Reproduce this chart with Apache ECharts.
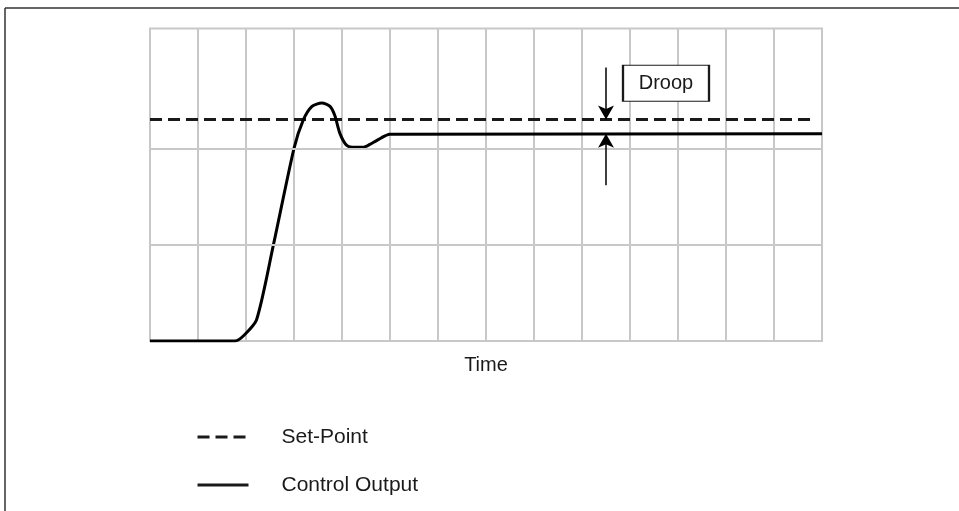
<!DOCTYPE html>
<html>
<head>
<meta charset="utf-8">
<script src="https://cdn.jsdelivr.net/npm/echarts@6/dist/echarts.min.js"></script>
<style>
  html, body { margin: 0; padding: 0; background: #fff; }
  #chart { width: 959px; height: 511px; }
</style>
</head>
<body>
<div id="chart"></div>
<script>
// ---- data ----
const timeX   = [0, 1.77, 1.96, 2.22, 2.57, 3.0, 3.19, 3.375, 3.58, 3.75, 3.85, 3.96, 4.10, 4.27, 4.44, 4.58, 4.72, 5.0, 14];
const outputY = [0, 0, 0.06, 0.22, 0.995, 2.0, 2.29, 2.435, 2.47, 2.435, 2.34, 2.15, 2.03, 2.01, 2.01, 2.04, 2.08, 2.145, 2.15];
const setPointX = [0, 13.81];
const setPointValue = 2.30;
const yGridLines = [1, 2];
const droopX = 9.5;
const droopArrowTop = 2.84;
const droopArrowBottom = 1.617;
const droopLabelPos = [10.75, 2.675];
const seriesNames = ['Set-Point', 'Control Output'];
const axisName = 'Time';

const font = 'Liberation Sans, Arial, Helvetica, sans-serif';
const outputData = timeX.map((x, i) => [x, outputY[i]]);
const setPointData = setPointX.map(x => [x, setPointValue]);

const chart = echarts.init(document.getElementById('chart'), null, { renderer: 'canvas' });
chart.setOption({
  animation: false,
  backgroundColor: '#ffffff',
  textStyle: { fontFamily: font },
  graphic: [
    { type: 'line', shape: { x1: 5, y1: 8, x2: 959, y2: 8 }, style: { stroke: '#333', lineWidth: 1.5 } },
    { type: 'line', shape: { x1: 5, y1: 8, x2: 5, y2: 511 }, style: { stroke: '#333', lineWidth: 1.5 } }
  ],
  grid: {
    left: 150, top: 28.5, width: 672, height: 312.5,
    show: true, borderColor: '#c8c8c8', borderWidth: 2, backgroundColor: 'transparent'
  },
  xAxis: {
    type: 'value', min: 0, max: 14, interval: 1,
    name: axisName, nameLocation: 'middle', nameGap: 14,
    nameTextStyle: { fontSize: 20, color: '#1a1a1a', fontFamily: font, verticalAlign: 'top' },
    axisLine: { show: false }, axisTick: { show: false }, axisLabel: { show: false },
    splitLine: { show: true, lineStyle: { color: '#c8c8c8', width: 2 } }
  },
  yAxis: {
    type: 'value', min: 0, max: 3.2435,
    axisLine: { show: false }, axisTick: { show: false }, axisLabel: { show: false },
    splitLine: { show: false }
  },
  legend: {
    data: seriesNames,
    orient: 'vertical', left: 196, top: 425, padding: 0,
    itemWidth: 51, itemHeight: 14, itemGap: 24,
    itemStyle: { color: 'rgba(0,0,0,0)', borderWidth: 0, borderColor: 'rgba(0,0,0,0)' },
    lineStyle: { color: '#1a1a1a', width: 3 },
    textStyle: { fontSize: 21, color: '#1a1a1a', fontFamily: font, lineHeight: 24, padding: [0, 0, 0, 28] }
  },
  series: [
    {
      name: 'gridlines', type: 'line', data: [], z: 1, silent: true,
      markLine: {
        silent: true, symbol: ['none', 'none'], label: { show: false },
        lineStyle: { color: '#c8c8c8', width: 2, type: 'solid' },
        data: yGridLines.map(v => ({ yAxis: v }))
      }
    },
    {
      name: seriesNames[0], type: 'line', data: setPointData, z: 3,
      symbol: 'none', showSymbol: false,
      lineStyle: { color: '#1a1a1a', width: 3, type: [12, 6] },
      itemStyle: { color: '#1a1a1a' }
    },
    {
      name: seriesNames[1], type: 'line', data: outputData, z: 4,
      symbol: 'none', showSymbol: false, smooth: 0.25,
      lineStyle: { color: '#000', width: 3 },
      itemStyle: { color: '#000' },
      markLine: {
        silent: true, symbol: ['none', 'arrow'], symbolSize: [12, 14],
        label: { show: false },
        lineStyle: { color: '#000', width: 1.5, type: 'solid' },
        data: [
          [{ coord: [droopX, droopArrowTop] }, { coord: [droopX, setPointValue] }],
          [{ coord: [droopX, droopArrowBottom] }, { coord: [droopX, outputY[outputY.length - 1]] }]
        ]
      },
      markPoint: {
        silent: true,
        data: [{
          coord: droopLabelPos, symbol: 'rect', symbolSize: [86, 36],
          itemStyle: { color: '#fff', borderColor: '#1a1a1a', borderWidth: 1.5 },
          label: { show: true, formatter: 'Droop', position: 'inside', fontSize: 20, color: '#1a1a1a', fontFamily: font }
        }]
      }
    }
  ]
});
</script>
</body>
</html>
